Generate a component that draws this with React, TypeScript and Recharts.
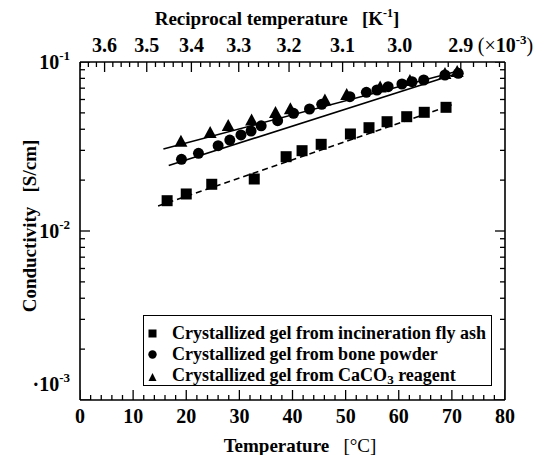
import { ScatterChart, Scatter, XAxis, YAxis, Legend } from 'recharts'

const FONT = '"Liberation Serif", "Times New Roman", serif'

// temperature [°C] and conductivity [S/cm]
const ashTemp = [16.4, 20.0, 24.8, 32.8, 38.8, 41.8, 45.4, 50.9, 54.4, 57.8, 61.5, 64.8, 68.9]
const ashCond = [0.01511, 0.01656, 0.0189, 0.02031, 0.02752, 0.02987, 0.03258, 0.0375, 0.04086, 0.04433, 0.04746, 0.05039, 0.05393]

const boneTemp = [19.1, 22.3, 26.0, 28.2, 30.3, 32.2, 34.1, 37.2, 40.2, 43.2, 45.5, 50.8, 53.9, 55.9, 58.0, 60.6, 62.5, 64.7, 68.7, 71.2]
const boneCond = [0.02657, 0.02883, 0.03196, 0.03454, 0.037, 0.03906, 0.04194, 0.04495, 0.0497, 0.05271, 0.05619, 0.06233, 0.06617, 0.06828, 0.07141, 0.07411, 0.07645, 0.07825, 0.08378, 0.08573]

const caco3Temp = [19.0, 24.5, 27.9, 32.3, 36.8, 39.6, 46.1, 50.2, 56.5, 62.1, 68.7, 71.0]
const caco3Cond = [0.03376, 0.03801, 0.04182, 0.04507, 0.04991, 0.05249, 0.05919, 0.06378, 0.07065, 0.07718, 0.08492, 0.08727]

// fitted lines (end points)
const ashFitTemp = [14.7, 70.0]
const ashFitCond = [0.01406, 0.05566]
const boneFitTemp = [16.7, 71.9]
const boneFitCond = [0.02441, 0.08727]
const caco3FitTemp = [15.7, 71.9]
const caco3FitCond = [0.03056, 0.08968]

const seriesNames = [
  'Crystallized gel from incineration fly ash',
  'Crystallized gel from bone powder',
  'Crystallized gel from CaCO3 reagent',
]

const tempTicks = [0, 10, 20, 30, 40, 50, 60, 70, 80]
const recipTicks = [3.6, 3.5, 3.4, 3.3, 3.2, 3.1, 3.0, 2.9] // x10^-3 K^-1
const condTicks = [0.001, 0.01, 0.1]

// reciprocal temperature (x10^-3 K^-1) <-> °C, for the top axis
const toCelsius = (r: number) => 1000 / r - 273.15
const toRecip = (t: number) => 1000 / (t + 273.15)

const zip = (xs: number[], ys: number[]) => xs.map((t, i) => ({ t, v: ys[i] }))

// minor tick positions
const tempMinor: number[] = []
for (let t = 2; t < 80; t += 2) if (t % 10 !== 0) tempMinor.push(t)
const recipMinor: number[] = []
for (let k = 366; k >= 284; k -= 2) if (k % 10 !== 0) recipMinor.push(toCelsius(k / 100))
const condMinor: number[] = []
for (const base of [0.001, 0.01]) for (let m = 2; m <= 9; m++) condMinor.push(m * base)

const X_MIN = 0
const X_MAX = 80
const Y_MIN = 0.001
const Y_MAX = 0.1

// inward tick marks, placed through the chart scales on the frame edges
const recipMajorC = recipTicks.map(toCelsius)
const bottomMaj = tempTicks.map((t) => ({ t, v: Y_MIN }))
const bottomMin = tempMinor.map((t) => ({ t, v: Y_MIN }))
const topMaj = recipMajorC.map((t) => ({ t, v: Y_MAX }))
const topMin = recipMinor.map((t) => ({ t, v: Y_MAX }))
const leftMaj = condTicks.map((v) => ({ t: X_MIN, v }))
const leftMin = condMinor.map((v) => ({ t: X_MIN, v }))
const rightMaj = condTicks.map((v) => ({ t: X_MAX, v }))
const rightMin = condMinor.map((v) => ({ t: X_MAX, v }))

const MAJ = 10
const MIN = 5
const TW = 1.3
const up = (len: number) => (p: any) => <line x1={p.cx} x2={p.cx} y1={p.cy} y2={p.cy - len} stroke="#000" strokeWidth={TW} />
const down = (len: number) => (p: any) => <line x1={p.cx} x2={p.cx} y1={p.cy} y2={p.cy + len} stroke="#000" strokeWidth={TW} />
const right = (len: number) => (p: any) => <line x1={p.cx} x2={p.cx + len} y1={p.cy} y2={p.cy} stroke="#000" strokeWidth={TW} />
const left = (len: number) => (p: any) => <line x1={p.cx} x2={p.cx - len} y1={p.cy} y2={p.cy} stroke="#000" strokeWidth={TW} />

const frame = { stroke: '#000', strokeWidth: 1.6 }

function BottomTick(props: any) {
  const { x, y, payload } = props
  return (
    <text x={x} y={y + 23} textAnchor="middle" fontSize={20} fontWeight={700} fontFamily={FONT} fill="#000">
      {payload.value}
    </text>
  )
}

function TopTick(props: any) {
  const { x, y, payload } = props
  const r = toRecip(payload.value)
  const last = Math.abs(r - recipTicks[recipTicks.length - 1]) < 1e-6
  return (
    <g>
      <text x={x} y={y - 10} textAnchor="middle" fontSize={20} fontWeight={700} fontFamily={FONT} fill="#000">
        {r.toFixed(1)}
      </text>
      {last && (
        <text x={x + 17} y={y - 10} fontSize={20} fontWeight={700} fontFamily={FONT} fill="#000">
          <tspan fontWeight={400}>(×</tspan>10<tspan dy={-8} fontSize={13}>-3</tspan>
          <tspan dy={8} fontWeight={400}>)</tspan>
        </text>
      )}
    </g>
  )
}

function LeftTick(props: any) {
  const { x, y, payload } = props
  const exp = Math.round(Math.log10(payload.value))
  const lowest = payload.value === condTicks[0]
  return (
    <text x={x - 10} y={y + (lowest ? -9 : 7)} textAnchor="end" fontSize={20} fontWeight={700} fontFamily={FONT} fill="#000">
      {lowest ? '·' : ''}10<tspan dy={-9} fontSize={13}>{exp}</tspan>
    </text>
  )
}

const square = (p: any) => <rect x={p.cx - 5.5} y={p.cy - 5.5} width={11} height={11} fill="#000" />
const circle = (p: any) => <circle cx={p.cx} cy={p.cy} r={5.5} fill="#000" />
const triangle = (p: any) => (
  <polygon points={`${p.cx},${p.cy - 7} ${p.cx - 6.5},${p.cy + 5} ${p.cx + 6.5},${p.cy + 5}`} fill="#000" />
)
const none = () => <g />

function LegendBox() {
  const marks = [
    <rect x={4.5} y={4.5} width={8} height={8} fill="#000" />,
    <circle cx={8.5} cy={8.5} r={4.2} fill="#000" />,
    <polygon points="8.5,4 4.5,12 12.5,12" fill="#000" />,
  ]
  return (
    <div
      style={{
        border: '1.5px solid #000',
        background: '#fff',
        padding: '7px 0 0 0',
        fontFamily: FONT,
        fontWeight: 700,
        fontSize: 18,
        lineHeight: '21px',
        color: '#000',
        boxSizing: 'border-box',
        height: 71,
      }}
    >
      {seriesNames.map((name, i) => (
        <div key={name} style={{ display: 'flex', alignItems: 'center', whiteSpace: 'nowrap' }}>
          <svg width={17} height={17} style={{ marginRight: 11 }}>
            {marks[i]}
          </svg>
          {i === 2 ? (
            <span>
              Crystallized gel from CaCO<sub style={{ fontSize: 13, verticalAlign: '-3px' }}>3</sub> reagent
            </span>
          ) : (
            <span>{name}</span>
          )}
        </div>
      ))}
    </div>
  )
}

const tickSeries: [any[], (p: any) => any][] = [
  [bottomMaj, up(MAJ)],
  [bottomMin, up(MIN)],
  [topMaj, down(MAJ)],
  [topMin, down(MIN)],
  [leftMaj, right(MAJ)],
  [leftMin, right(MIN)],
  [rightMaj, left(MAJ)],
  [rightMin, left(MIN)],
]

export default function App() {
  return (
    <div style={{ position: 'absolute', left: 0, top: 0, background: '#fff' }}>
      <ScatterChart width={555} height={455} margin={{ top: 0, right: 0, bottom: 0, left: 0 }}>
        <XAxis
          xAxisId="b"
          dataKey="t"
          type="number"
          domain={[X_MIN, X_MAX]}
          ticks={tempTicks}
          interval={0}
          orientation="bottom"
          height={55}
          tickLine={false}
          tickSize={0}
          tickMargin={0}
          axisLine={frame}
          tick={<BottomTick />}
          allowDataOverflow
          label={{
            content: () => (
              <text x={300} y={452} textAnchor="middle" fontSize={19} fontWeight={700} fontFamily={FONT} fill="#000">
                Temperature{'\u00a0\u00a0\u00a0'}
                <tspan fontWeight={400}>[°C]</tspan>
              </text>
            ),
          }}
        />
        <XAxis
          xAxisId="t"
          dataKey="t"
          type="number"
          domain={[X_MIN, X_MAX]}
          ticks={recipMajorC}
          interval={0}
          orientation="top"
          height={62}
          tickLine={false}
          tickSize={0}
          tickMargin={0}
          axisLine={frame}
          tick={<TopTick />}
          allowDataOverflow
          label={{
            content: () => (
              <text x={277} y={25} textAnchor="middle" fontSize={19} fontWeight={700} fontFamily={FONT} fill="#000">
                Reciprocal temperature{'\u00a0\u00a0\u00a0'}[K<tspan dy={-8} fontSize={12}>-1</tspan>
                <tspan dy={8}>]</tspan>
              </text>
            ),
          }}
        />
        <YAxis
          yAxisId="l"
          dataKey="v"
          type="number"
          scale="log"
          domain={[Y_MIN, Y_MAX]}
          ticks={condTicks}
          interval={0}
          width={80}
          tickLine={false}
          tickSize={0}
          tickMargin={0}
          axisLine={frame}
          tick={<LeftTick />}
          allowDataOverflow
          label={{
            content: () => (
              <text x={36} y={226} transform="rotate(-90 36 226)" textAnchor="middle" fontSize={19} fontWeight={700} fontFamily={FONT} fill="#000">
                Conductivity{'\u00a0\u00a0\u00a0'}[S/cm]
              </text>
            ),
          }}
        />
        <YAxis
          yAxisId="r"
          dataKey="v"
          type="number"
          scale="log"
          domain={[Y_MIN, Y_MAX]}
          orientation="right"
          width={50}
          tick={false}
          tickLine={false}
          axisLine={frame}
          allowDataOverflow
        />

        {/* inward tick marks */}
        {tickSeries.map(([data, shape], i) => (
          <Scatter key={`tk${i}`} xAxisId="b" yAxisId="l" data={data} shape={shape} isAnimationActive={false} legendType="none" />
        ))}

        {/* fitted lines drawn against the top/right axes (same domains as bottom/left) */}
        <Scatter xAxisId="t" yAxisId="r" data={zip(ashFitTemp, ashFitCond)} shape={none} line={{ stroke: '#000', strokeWidth: 1.6, strokeDasharray: '6 4' }} isAnimationActive={false} legendType="none" />
        <Scatter xAxisId="t" yAxisId="r" data={zip(boneFitTemp, boneFitCond)} shape={none} line={{ stroke: '#000', strokeWidth: 1.6 }} isAnimationActive={false} legendType="none" />
        <Scatter xAxisId="t" yAxisId="r" data={zip(caco3FitTemp, caco3FitCond)} shape={none} line={{ stroke: '#000', strokeWidth: 1.6 }} isAnimationActive={false} legendType="none" />

        <Scatter name={seriesNames[0]} xAxisId="b" yAxisId="l" data={zip(ashTemp, ashCond)} shape={square} isAnimationActive={false} />
        <Scatter name={seriesNames[1]} xAxisId="b" yAxisId="l" data={zip(boneTemp, boneCond)} shape={circle} isAnimationActive={false} />
        <Scatter name={seriesNames[2]} xAxisId="b" yAxisId="l" data={zip(caco3Temp, caco3Cond)} shape={triangle} isAnimationActive={false} />

        <Legend
          layout="vertical"
          align="center"
          verticalAlign="middle"
          wrapperStyle={{ left: 143, top: 315, width: 349, height: 71 }}
          content={() => <LegendBox />}
        />
      </ScatterChart>
    </div>
  )
}
